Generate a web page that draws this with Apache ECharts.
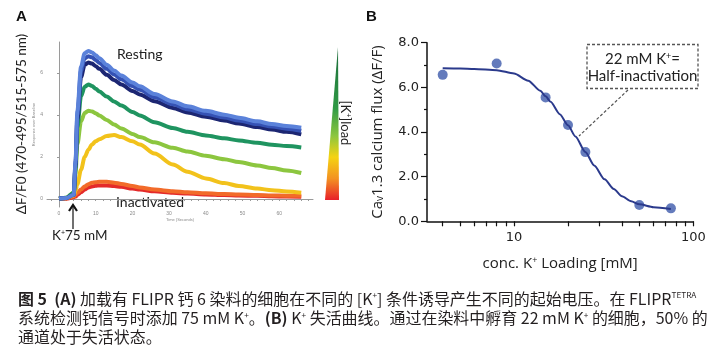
<!DOCTYPE html>
<html><head><meta charset="utf-8">
<script src="https://cdn.jsdelivr.net/npm/echarts@6/dist/echarts.min.js"></script>
<style>html,body{margin:0;padding:0;background:#fff}#c{width:713px;height:349px}</style>
</head><body><div id="c"></div>
<script>
// ---------- Panel A: traces (time in seconds, response over baseline) ----------
const timeA = [0,2,4,4.5,5,6,7,8,9,10,11,13,15,17,20,22,26,31,35,40,45,49,54,58,62,66];
const traceLightBlue = [0.02,0.05,0.2,1.8,4.2,6.3,6.95,7.05,6.98,6.85,6.7,6.4,6.12,5.88,5.55,5.37,5.0,4.65,4.42,4.2,4.02,3.87,3.7,3.57,3.48,3.4];
const traceMidBlue   = [0.02,0.05,0.2,1.7,4.0,6.1,6.7,6.8,6.75,6.62,6.48,6.2,5.93,5.7,5.38,5.2,4.85,4.52,4.28,4.06,3.88,3.74,3.57,3.45,3.35,3.25];
const traceNavy      = [0.02,0.05,0.2,1.6,3.8,5.8,6.4,6.5,6.45,6.33,6.2,5.92,5.67,5.45,5.15,4.98,4.66,4.34,4.12,3.92,3.74,3.6,3.43,3.31,3.2,3.08];
const traceTeal      = [0.02,0.06,0.3,1.5,3.4,4.9,5.35,5.45,5.38,5.25,5.12,4.88,4.65,4.45,4.15,3.98,3.66,3.38,3.2,3.03,2.89,2.79,2.68,2.59,2.52,2.45];
const traceLightGreen= [0.02,0.06,0.3,1.2,2.6,3.7,4.1,4.2,4.17,4.08,3.98,3.76,3.55,3.36,3.1,2.95,2.7,2.44,2.26,2.06,1.9,1.76,1.6,1.48,1.36,1.24];
const traceYellow    = [0.02,0.05,0.18,0.4,0.7,1.4,2.0,2.35,2.6,2.75,2.85,3.0,3.05,2.95,2.75,2.6,2.17,1.65,1.3,0.98,0.76,0.62,0.5,0.42,0.36,0.3];
const traceOrange    = [0.01,0.03,0.12,0.2,0.3,0.45,0.6,0.7,0.77,0.8,0.82,0.82,0.78,0.72,0.62,0.55,0.45,0.37,0.32,0.27,0.24,0.21,0.19,0.17,0.16,0.15];
const traceRed       = [0.0,0.02,0.08,0.12,0.2,0.32,0.45,0.55,0.6,0.63,0.65,0.65,0.62,0.58,0.5,0.45,0.37,0.3,0.26,0.22,0.19,0.17,0.15,0.13,0.12,0.11];
const ticksA_x = [0,10,20,30,40,50,60];
const ticksA_y = [0,2,4,6];

// ---------- Panel B: inactivation curve ----------
const concB = [4, 8, 15, 20, 25, 50, 75];
const fluxB = [6.56, 7.07, 5.55, 4.31, 3.1, 0.73, 0.58];
const fitConc = [4,5,6,8,10,12,14,15,16,18,20,22,25,28,32,36,40,45,50,60,75];
const fitFlux = [6.85,6.84,6.82,6.77,6.62,6.3,5.85,5.6,5.35,4.8,4.3,3.8,3.1,2.5,1.88,1.45,1.12,0.9,0.76,0.63,0.55];
const ticksB_x = [10, 100];
const minorB_x = [4,5,6,7,8,9,10,20,30,40,50,60,70,80,90,100];

const tA = (arr) => timeA.map((t, i) => [t, arr[i]]);
const traceSeries = [
  ['#e42a2a', traceRed], ['#f26b2a', traceOrange], ['#f2c21b', traceYellow],
  ['#8cc63f', traceLightGreen], ['#1f9460', traceTeal], ['#1c2672', traceNavy],
  ['#3552b4', traceMidBlue], ['#5b82da', traceLightBlue]
].map(([c, d]) => ({
  type: 'line', xAxisIndex: 0, yAxisIndex: 0, data: tA(d), showSymbol: false,
  smooth: 0.3, smoothMonotone: 'x', lineStyle: { color: c, width: 4 }, itemStyle: { color: c }, silent: true
}));

const chart = echarts.init(document.getElementById('c'), null, { renderer: 'canvas' });
const latin = 'Lato';
const titleFont = 'Open Sans';
const capFont = 'Noto Sans CJK SC';
const capRich = {
  b: { fontWeight: 'bold', fontSize: 15.5, fontFamily: capFont, color: '#231f20' },
  sup: { fontSize: 8, verticalAlign: 'top', lineHeight: 16, fontFamily: capFont, color: '#231f20' }
};
function capLine(y, text) {
  return { type: 'text', x: 18, y: y, scaleX: 1.03, style: { text: text, rich: capRich, fontSize: 15.5, fontFamily: capFont, fill: '#231f20', verticalAlign: 'middle', lineHeight: 16 } };
}
chart.setOption({
  animation: false,
  backgroundColor: '#fff',
  grid: [
    { left: 47, top: 42, width: 266, height: 165 },
    { left: 427, top: 42.7, width: 266.3, height: 178.6 }
  ],
  xAxis: [
    { type: 'value', gridIndex: 0, min: -3.27, max: 69.2,
      axisLine: { lineStyle: { color: '#9a9a9a', width: 1 } },
      axisTick: { show: true, length: 2, lineStyle: { color: '#9a9a9a' }, customValues: [-2,0,2,4,6,8,10,12,14,16,18,20,22,24,26,28,30,32,34,36,38,40,42,44,46,48,50,52,54,56,58,60,62,64,66,68] },
      axisLabel: { customValues: ticksA_x, fontSize: 5, color: '#8a8a8a', margin: 4 },
      splitLine: { show: false },
      name: 'Time (Seconds)', nameLocation: 'middle', nameGap: 11, nameTextStyle: { fontSize: 4, color: '#8a8a8a' } },
    { type: 'log', gridIndex: 1, logBase: 10, min: 3.27, max: 100,
      axisLine: { lineStyle: { color: '#111', width: 1.5 } },
      axisTick: { show: true, length: 5, lineStyle: { color: '#111', width: 1.2 }, customValues: minorB_x },
      axisLabel: { customValues: ticksB_x, fontSize: 13, color: '#222', fontFamily: 'DejaVu Sans', margin: 10 },
      splitLine: { show: false }, minorTick: { show: false },
      name: 'conc. K{sup|+} Loading [mM]', nameLocation: 'middle', nameGap: 35,
      nameTextStyle: { fontSize: 15, color: '#222', fontFamily: titleFont, rich: { sup: { fontSize: 9, verticalAlign: 'top', lineHeight: 15, fontFamily: titleFont, color: '#222' } } } }
  ],
  yAxis: [
    { type: 'value', gridIndex: 0, min: -0.38, max: 7.48,
      axisLine: { show: true, lineStyle: { color: '#9a9a9a', width: 1 } },
      axisTick: { show: true, length: 2, lineStyle: { color: '#9a9a9a' }, customValues: ticksA_y },
      axisLabel: { customValues: ticksA_y, fontSize: 5, color: '#8a8a8a', margin: 4 },
      splitLine: { show: false },
      name: 'Response over Baseline', nameLocation: 'middle', nameGap: 10, nameTextStyle: { fontSize: 4, color: '#8a8a8a' } },
    { type: 'value', gridIndex: 1, min: 0, max: 8, interval: 2,
      axisLine: { show: true, lineStyle: { color: '#111', width: 1.5 } },
      axisTick: { show: true, length: 6, lineStyle: { color: '#111', width: 1.2 } },
      minorTick: { show: true, splitNumber: 2, length: 3, lineStyle: { color: '#111', width: 1.2 } },
      axisLabel: { formatter: v => v.toFixed(1), fontSize: 13, color: '#222', fontFamily: 'DejaVu Sans', margin: 8 },
      splitLine: { show: false },
      name: 'Ca{sub|v}1.3 calcium flux (ΔF/F)', nameLocation: 'middle', nameGap: 42,
      nameTextStyle: { fontSize: 15, color: '#222', fontFamily: titleFont, rich: { sub: { fontSize: 10, verticalAlign: 'bottom', lineHeight: 15, fontFamily: titleFont, color: '#222' } } } }
  ],
  series: traceSeries.concat([
    { type: 'line', xAxisIndex: 1, yAxisIndex: 1, data: fitConc.map((c, i) => [c, fitFlux[i]]),
      showSymbol: false, smooth: 0.25, smoothMonotone: 'x', lineStyle: { color: '#2b3a8c', width: 2 }, itemStyle: { color: '#2b3a8c' } },
    { type: 'scatter', xAxisIndex: 1, yAxisIndex: 1, data: concB.map((c, i) => [c, fluxB[i]]),
      symbolSize: 10, itemStyle: { color: '#3d5aab' } }
  ]),
  graphic: [
    { type: 'text', x: 16, y: 17, style: { text: 'A', fontSize: 15, fontWeight: 'bold', fontFamily: 'Liberation Sans', fill: '#111', verticalAlign: 'middle' } },
    { type: 'text', x: 366, y: 17, style: { text: 'B', fontSize: 15, fontWeight: 'bold', fontFamily: 'Liberation Sans', fill: '#111', verticalAlign: 'middle' } },
    { type: 'text', x: 22, y: 124, rotation: Math.PI / 2, style: { text: 'ΔF/F0 (470-495/515-575 nm)', fontSize: 13.5, fontFamily: latin, fill: '#222', align: 'center', verticalAlign: 'middle' } },
    { type: 'text', x: 117, y: 54, style: { text: 'Resting', fontSize: 14, fontFamily: latin, fill: '#222', verticalAlign: 'middle' } },
    { type: 'text', x: 116, y: 202, style: { text: 'Inactivated', fontSize: 14, fontFamily: latin, fill: '#222', verticalAlign: 'middle' } },
    { type: 'line', shape: { x1: 73, y1: 206, x2: 73, y2: 229 }, style: { stroke: '#111', lineWidth: 1.2 } },
    { type: 'polyline', shape: { points: [[69, 211], [73, 205], [77, 211]] }, style: { stroke: '#111', lineWidth: 2.2, fill: null } },
    { type: 'text', x: 52, y: 236, style: { text: 'K{sup|+}75 mM', rich: { sup: { fontSize: 7, verticalAlign: 'top', lineHeight: 14, fontFamily: latin, fill: '#222' } }, fontSize: 13.5, fontFamily: latin, fill: '#222', verticalAlign: 'middle' } },
    { type: 'polygon', shape: { points: [[338, 47], [339, 200], [325, 200]] },
      style: { fill: new echarts.graphic.LinearGradient(0, 0, 0, 1, [
        { offset: 0, color: '#1b6a3a' }, { offset: 0.4, color: '#2f9a45' }, { offset: 0.58, color: '#8cc63f' },
        { offset: 0.72, color: '#f5d312' }, { offset: 0.86, color: '#f39222' }, { offset: 1, color: '#e8202a' }]) } },
    { type: 'text', x: 345, y: 123, rotation: -Math.PI / 2, style: { text: '[K{sup|+}]load', rich: { sup: { fontSize: 7, verticalAlign: 'top', lineHeight: 13, fontFamily: latin, fill: '#222' } }, fontSize: 13, fontFamily: latin, fill: '#222', align: 'center', verticalAlign: 'middle' } },
    { type: 'rect', shape: { x: 587, y: 44.5, width: 111, height: 44 }, style: { fill: '#fff', stroke: '#555', lineWidth: 1.3, lineDash: [3, 2] } },
    { type: 'text', x: 642.5, y: 59.5, style: { text: '22 mM K{sup|+}=', rich: { sup: { fontSize: 9, verticalAlign: 'top', lineHeight: 15, fontFamily: latin, fill: '#222' } }, fontSize: 15, fontFamily: latin, fill: '#222', align: 'center', verticalAlign: 'middle' } },
    { type: 'text', x: 642.5, y: 76, style: { text: 'Half-inactivation', fontSize: 15, fontFamily: latin, fill: '#222', align: 'center', verticalAlign: 'middle' } },
    { type: 'line', shape: { x1: 628, y1: 90, x2: 579, y2: 136 }, style: { stroke: '#555', lineWidth: 1.2, lineDash: [3, 2] } },
    capLine(299, '{b|图 5}  {b|(A)} 加载有 FLIPR 钙 6 染料的细胞在不同的 [K{sup|+}] 条件诱导产生不同的起始电压。在 FLIPR{sup|TETRA}'),
    capLine(318.5, '系统检测钙信号时添加 75 mM K{sup|+}。{b|(B)} K{sup|+} 失活曲线。通过在染料中孵育 22 mM K{sup|+} 的细胞，50% 的'),
    capLine(337.5, '通道处于失活状态。')
  ]
});
</script></body></html>
